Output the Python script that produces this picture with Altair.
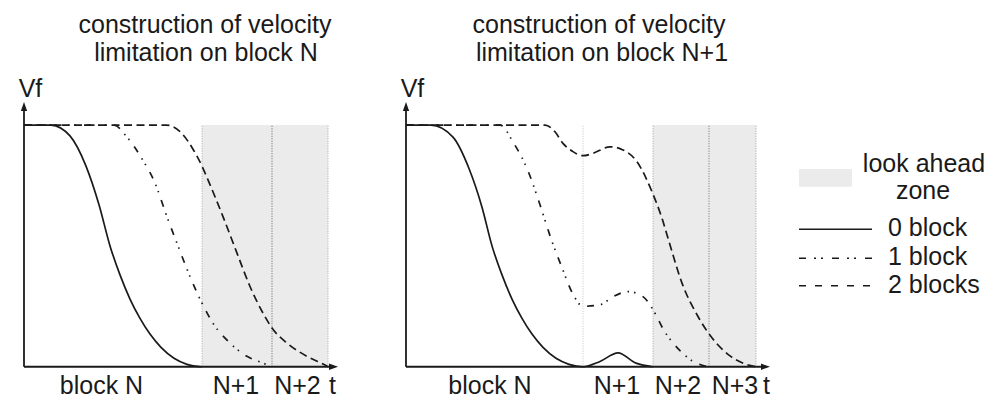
import altair as alt
import pandas as pd

FONT = "Liberation Sans"
INK = "#1a1a1a"
SHADE = "#ebebeb"

# ---------------- values ----------------
# t: time (arbitrary units), v: relative velocity limit (plateau = 1)
L_solid_t = [0, 2.7, 4.6, 6.2, 7.5, 8.6, 9.6, 10.6, 11.6, 12.6, 13.7, 15.0, 16.3, 17.8]
L_solid_v = [1, 1, 0.955, 0.83, 0.67, 0.5, 0.38, 0.28, 0.2, 0.135, 0.08, 0.035, 0.01, 0]
L_dd_t = [0, 9.0, 10.2, 11.8, 13.1, 14.3, 15.4, 16.6, 17.8, 18.9, 20.6, 22.3, 23.9, 24.8]
L_dd_v = [1, 1, 0.955, 0.86, 0.76, 0.62, 0.5, 0.373, 0.263, 0.18, 0.098, 0.043, 0.015, 0]
L_dash_t = [0, 14.2, 15.9, 16.9, 17.8, 18.4, 19.9, 21.3, 22.6, 23.9, 24.8, 26.3, 28.3, 29.9, 30.4]
L_dash_v = [1, 1, 0.96, 0.9, 0.83, 0.773, 0.621, 0.47, 0.332, 0.222, 0.16, 0.098, 0.043, 0.011, 0]

R_solid_t = [0, 2.5, 4.7, 6.3, 7.6, 8.6, 9.6, 10.6, 11.6, 12.6, 13.7, 15.0, 16.3, 17.7, 19.4, 21.2, 23.0, 24.7]
R_solid_v = [1, 1, 0.95, 0.82, 0.66, 0.5, 0.38, 0.28, 0.2, 0.135, 0.08, 0.035, 0.01, 0, 0.022, 0.057, 0.015, 0]
R_dd_t = [0, 9.4, 10.7, 12.2, 13.4, 14.5, 15.6, 16.7, 17.7, 19.4, 20.7, 22.2, 23.7, 24.7, 25.8, 27.2, 28.6, 30.2]
R_dd_v = [1, 1, 0.93, 0.81, 0.67, 0.53, 0.41, 0.3, 0.25, 0.256, 0.29, 0.311, 0.29, 0.236, 0.15, 0.075, 0.025, 0]
R_dash_t = [0, 13.9, 14.9, 15.7, 16.7, 17.7, 18.7, 20.4, 21.7, 23.1, 24.6, 25.6, 26.3, 27.6, 29.2, 30.5, 32.4, 34.0, 35.0]
R_dash_v = [1, 1, 0.972, 0.924, 0.89, 0.873, 0.883, 0.91, 0.897, 0.848, 0.724, 0.614, 0.518, 0.346, 0.208, 0.125, 0.045, 0.01, 0]

# block boundaries and look-ahead zones
L_zone = [17.8, 30.4]
L_rule_t = [17.8, 24.8, 30.4]
L_rule_c = ["#a8a8a8", "#606060", "#a8a8a8"]
R_zone = [24.7, 35.0]
R_rule_t = [17.7, 24.7, 30.3, 35.0]
R_rule_c = ["#c4c4c4", "#a0a0a0", "#707070", "#a0a0a0"]

# axis labels
L_lab_text = ["block N", "N+1", "N+2", "t"]
L_lab_t = [7.75, 21.2, 27.35, 30.85]
R_lab_text = ["block N", "N+1", "N+2", "N+3", "t"]
R_lab_t = [8.4, 21.1, 27.2, 32.9, 36.05]

L_title = ["construction of velocity", "limitation on block N"]
L_title_t = [18.1, 18.2]
R_title = ["construction of velocity", "limitation on block N+1"]
R_title_t = [19.3, 19.6]
TITLE_V = [1.379, 1.263]
VF_V = 1.114
LAB_V = -0.112
L_axis_end = 31.4
R_axis_end = 36.4
Y_axis_end = 1.095

# legend
LEG_text = ["look ahead", "zone", "0 block", "1 block", "2 blocks"]
LEG_text_x = [144, 143, 108, 108, 108]
LEG_text_v = [0.807, 0.693, 0.541, 0.421, 0.305]
LEG_align = ["center", "center", "left", "left", "left"]
LEG_line_v = [0.569, 0.449, 0.335]
LEG_line_x = [19, 92]
LEG_box = [19, 72, 0.745, 0.818]

DASH = [8, 4.5]
DASHDOT = [7, 7, 1.5, 5, 1.5, 8]
LEG_DASH = [7, 9]
LEG_DASHDOT = [7, 8, 2, 5, 2, 9]

# ---------------- chart ----------------
H = 394
YS = alt.Scale(domain=[-0.15, 1.48], nice=False, zero=False)
UP = "M0,-1L-0.7,1L0.7,1Z"
RIGHT = "M1,0L-1,-0.7L-1,0.7Z"


def panel(solid, dd, dash, zone, rule_t, rule_c, axis_end, lab_text, lab_t,
          title, title_t, xdom, width):
    xs = alt.Scale(domain=xdom, nice=False, zero=False)

    def X(f):
        return alt.X(f"{f}:Q", scale=xs, axis=None)

    def Y(f):
        return alt.Y(f"{f}:Q", scale=YS, axis=None)

    shade = alt.Chart(pd.DataFrame({"t0": [zone[0]], "t1": [zone[1]], "v0": [0], "v1": [1]})).mark_rect(
        color=SHADE).encode(x=X("t0"), x2="t1", y=Y("v0"), y2="v1")
    rules = alt.Chart(pd.DataFrame({"t": rule_t, "c": rule_c, "v0": 0, "v1": 1})).mark_rule(
        strokeDash=[1, 1.5], strokeWidth=1).encode(
        x=X("t"), y=Y("v0"), y2="v1", color=alt.Color("c:N", scale=None))

    def curve(tv, dashpat):
        kw = dict(interpolate="monotone", color=INK, strokeWidth=1.7)
        if dashpat:
            kw["strokeDash"] = dashpat
        return alt.Chart(pd.DataFrame({"t": tv[0], "v": tv[1]})).mark_line(**kw).encode(
            x=X("t"), y=Y("v"), order="t:Q")

    xaxis = alt.Chart(pd.DataFrame({"t0": [0], "t1": [axis_end - 0.5], "v": [0]})).mark_rule(
        color=INK, strokeWidth=1.8).encode(x=X("t0"), x2="t1", y=Y("v"))
    yaxis = alt.Chart(pd.DataFrame({"t": [0], "v0": [0], "v1": [Y_axis_end - 0.03]})).mark_rule(
        color=INK, strokeWidth=1.8).encode(x=X("t"), y=Y("v0"), y2="v1")
    arr_r = alt.Chart(pd.DataFrame({"t": [axis_end - 0.45], "v": [0]})).mark_point(
        shape=RIGHT, filled=True, size=81, color=INK, opacity=1, strokeWidth=0).encode(x=X("t"), y=Y("v"))
    arr_u = alt.Chart(pd.DataFrame({"t": [0], "v": [Y_axis_end - 4.5 / 242]})).mark_point(
        shape=UP, filled=True, size=81, color=INK, opacity=1, strokeWidth=0).encode(x=X("t"), y=Y("v"))

    texts = pd.DataFrame({
        "t": lab_t + title_t + [0.65],
        "v": [LAB_V] * len(lab_t) + TITLE_V + [VF_V],
        "s": lab_text + title + ["Vf"],
    })
    txt = alt.Chart(texts).mark_text(font=FONT, fontSize=25, color=INK, align="center",
                                     baseline="alphabetic").encode(x=X("t"), y=Y("v"), text="s:N")

    return alt.layer(shade, rules, curve(solid, None), curve(dd, DASHDOT), curve(dash, DASH),
                     xaxis, yaxis, arr_r, arr_u, txt).properties(width=width, height=H)


left = panel((L_solid_t, L_solid_v), (L_dd_t, L_dd_v), (L_dash_t, L_dash_v), L_zone,
             L_rule_t, L_rule_c, L_axis_end, L_lab_text, L_lab_t, L_title, L_title_t,
             [-1.6, 33.6], 352)
right = panel((R_solid_t, R_solid_v), (R_dd_t, R_dd_v), (R_dash_t, R_dash_v), R_zone,
              R_rule_t, R_rule_c, R_axis_end, R_lab_text, R_lab_t, R_title, R_title_t,
              [-4.6, 37.4], 420)

# legend panel
lxs = alt.Scale(domain=[0, 210], nice=False, zero=False)


def LX(f):
    return alt.X(f"{f}:Q", scale=lxs, axis=None)


def LY(f):
    return alt.Y(f"{f}:Q", scale=YS, axis=None)


box = alt.Chart(pd.DataFrame({"x0": [LEG_box[0]], "x1": [LEG_box[1]], "v0": [LEG_box[2]], "v1": [LEG_box[3]]})).mark_rect(
    color=SHADE).encode(x=LX("x0"), x2="x1", y=LY("v0"), y2="v1")
leg_lines = []
for vv, pat in zip(LEG_line_v, [None, LEG_DASHDOT, LEG_DASH]):
    kw = dict(color=INK, strokeWidth=1.6)
    if pat:
        kw["strokeDash"] = pat
    leg_lines.append(alt.Chart(pd.DataFrame({"x": LEG_line_x, "v": [vv, vv]})).mark_line(**kw).encode(
        x=LX("x"), y=LY("v")))
ltd = pd.DataFrame({"x": LEG_text_x, "v": LEG_text_v, "s": LEG_text, "a": LEG_align})
ltxt_c = alt.Chart(ltd[ltd.a == "center"]).mark_text(font=FONT, fontSize=25, color=INK, align="center",
                                                     baseline="alphabetic").encode(x=LX("x"), y=LY("v"), text="s:N")
ltxt_l = alt.Chart(ltd[ltd.a == "left"]).mark_text(font=FONT, fontSize=25, color=INK, align="left",
                                                   baseline="alphabetic").encode(x=LX("x"), y=LY("v"), text="s:N")
legend = alt.layer(box, *leg_lines, ltxt_c, ltxt_l).properties(width=210, height=H)

chart = alt.hconcat(left, right, legend, spacing=0, bounds="flush").configure_view(
    stroke=None).properties(padding={"left": 0, "top": 1, "right": 0, "bottom": 0})

chart.save("out.html", embed_options={"renderer": "svg", "actions": False})
